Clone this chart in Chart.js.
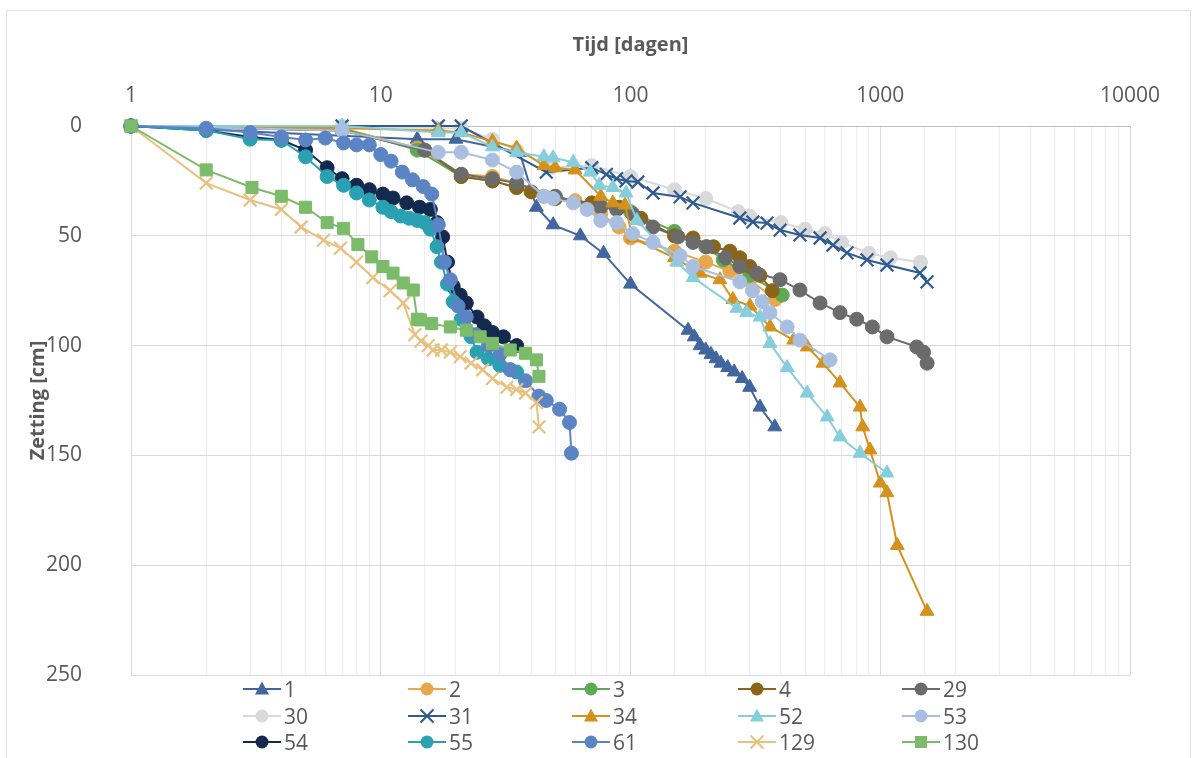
<!DOCTYPE html>
<html><head><meta charset="utf-8">
<script src="https://cdn.jsdelivr.net/npm/chart.js@4.4.1/dist/chart.umd.min.js"></script>
<style>
html,body{margin:0;padding:0;background:#fff;}
#wrap{position:relative;width:1198px;height:758px;overflow:hidden;background:#fff;}
#frame{position:absolute;left:6px;top:10px;width:1183px;height:800px;border:1px solid #e0e0e0;}
#c{position:absolute;left:0;top:0;}
#legend{position:absolute;left:0;top:0;width:1198px;height:758px;font-family:'Open Sans',sans-serif;font-size:21px;color:#595959;pointer-events:none;}
.item{position:absolute;display:flex;align-items:center;height:26px;white-space:nowrap;}
.item canvas{display:block;margin-right:3px;}
</style></head>
<body><div id="wrap"><div id="frame"></div><canvas id="c" width="1198" height="758"></canvas><div id="legend"></div></div>
<script>
// ---- data: time in days (t) and settlement in cm (z) per series ----
const names = ['1','2','3','4','29','30','31','34','52','53','54','55','61','129','130'];

const t1 = [1,14,20,36,42,49,63,78,100,170,180,190,200,210,220,230,245,260,280,300,330,378];
const z1 = [0,6,6,12,37,45,50,58,72,93,96,100,102,104,106,108,110,112,115,119,128,137];

const t2 = [1,7,14,21,28,35,45,60,76,90,100,150,200,250,300,380];
const z2 = [0,1,10,22,23,26,32,34,40,46,51,57,62,66,70,79];

const t3 = [1,7,14,21,28,35,50,76,100,150,200,235,300,405];
const z3 = [0,1,11,23,25,28,33,36,39,48,55,61,68,77];

const t4 = [1,7,15,21,28,35,40,50,70,90,110,150,178,215,250,274,300,330,370];
const z4 = [0,2,11,23,25,28,30,33,35,37,42,50,51,55,57,60,64,68,75];

const t29 = [1,7,15,21,28,35,50,76,88,102,123,155,178,202,240,274,320,397,477,574,690,805,930,1064,1400,1490,1540];
const z29 = [0,2,11,22,24,26,32,37,38,40,46,50.5,53,55,60,64,67,70,74.7,80.6,85,88,91.5,96,100.6,103,108];

const t30 = [1,7,17,21,28,35,48,70,100,150,200,270,300,400,500,600,700,900,1100,1450];
const z30 = [0,0,1,1,6,11,19,18,23,29,33,39,41,44,47,49,53,58,60,62];

const t31 = [1,7,17,21,46,70,80,88,96,107,123,158,178,274,309,352,397,477,574,647,736,885,1064,1443,1539];
const z31 = [0,0,0,0,21,19,22,24,25,25.5,30.5,32.3,35,41.9,43.7,44.2,47.4,49.6,51,54.2,57.8,61,63.3,66.9,71];

const t34 = [1,7,17,21,28,35,45,50,60,76,85,95,102,150,190,228,257,301,362,450,510,590,690,830,850,910,1000,1064,1170,1540];
const z34 = [0,1,2,3,7,10,18,19,20,32,35,36,51,60,67,70,79,82,91.5,97.5,100.6,108,117,128,137,147.5,162.6,167,191,221];

const t52 = [1,7,17,21,28,35,45,49,59,69,75,85,96,106,153,178,267,292,330,362,424,510,613,690,830,1064];
const z52 = [0,0,3,3,9.5,12,14,14.5,16.5,21,27,28,30.5,43,62,69,83,85,87,99,110,121.6,132.5,141.6,149,158];

const t53 = [1,7,17,21,28,35,45,49,59,67,76,88,102,123,158,178,274,308,337,362,424,477,630];
const z53 = [0,2,12,12,15.5,21,32,33,35,38,43,44,49,53,59,64,71,75,80,85,91.5,97.5,106.5];

const t54 = [1,2,3,4,5,6.1,7,8,9,10.2,11.2,12.7,14.3,15.8,16.8,17.7,18.5,19.5,20.8,22,24.3,26,28,31,35];
const z54 = [0,2,5,6.4,11,19,24,27,29,31,32.8,35,37,38,44,50.5,62,73,77,80.6,87,91,94,96,100];

const t55 = [1,2,3,4,5,6.1,7.1,8,9,10.2,11,12,13,14,15,15.8,16.8,17.5,18.5,19.5,21,23,24.3,27,30,33,35];
const z55 = [0,2,6,6.5,14,23,27,30.5,33.7,37,39,41,42,43,44,47,55,62,72,80,88,96,103,106,109,111,112];

const t61 = [1,2,3,4,5,6,7.1,8,9,10,11,12.2,13.4,14.8,16,17,18,19,20.4,22,24,27,30,33,38,43,46,52,57,58];
const z61 = [0,1,3,5,6.4,5.5,7.7,8.6,8.6,13,16,21,24.5,27.6,31,45,62,70,82,87,95,100,104,111,116,123,125,129,135,149];

const t129 = [1,2,3,4,4.8,5.9,6.9,8,9.3,10.9,12.3,13.7,14.5,15.5,16.2,17.5,19,20.8,23,25.6,28,32,35,38,42,43];
const z129 = [0,26,33.7,38,46,52,55.6,62,69,75,80.6,95,98,100,102,102,103,105,108,111,115,119,120,121.6,126,137];

const t130 = [1,2,3.05,4,5,6.1,7.1,8.1,9.2,10.2,11.2,12.3,13.5,14,14.4,16,19,22,25,28,33,38,42,43];
const z130 = [0,20,28,32,37,44,46.6,54,59.6,64,67,71.5,74.7,88,88.3,90,91.5,93,96,99,102,103.5,106.5,114];

const xTickLabels = [1,10,100,1000,10000];
const yTicks = [0,50,100,150,200,250];

// ---- styles ----
const seriesT = [t1,t2,t3,t4,t29,t30,t31,t34,t52,t53,t54,t55,t61,t129,t130];
const seriesZ = [z1,z2,z3,z4,z29,z30,z31,z34,z52,z53,z54,z55,z61,z129,z130];
const colors = ['#41659e','#e6a84a','#5ea956','#8a6418','#6b6b6b','#d9d9d9','#2f5b8f','#d4921d','#86cedb','#a9bfe1','#13294d','#2aa1b3','#5b84c5','#e8c17f','#7bbb69'];
const styles = ['triangle','circle','circle','circle','circle','circle','crossRot','triangle','triangle','circle','circle','circle','circle','crossRot','rect'];
const radii = {triangle:8, circle:7, crossRot:9, rect:8.5};

const n = names.length;
const datasets = names.map((nm,i)=>({
  label: nm,
  data: seriesT[i].map((v,k)=>({x:v, y:seriesZ[i][k]})),
  borderColor: colors[i],
  backgroundColor: colors[i],
  pointBackgroundColor: colors[i],
  pointBorderColor: colors[i],
  pointStyle: styles[i],
  pointRadius: radii[styles[i]],
  pointBorderWidth: styles[i]==='crossRot' ? 2.2 : 1,
  borderWidth: 2,
  showLine: true,
  tension: 0,
  clip: false,
  order: n - i
}));

const isMajor = v => { const l = Math.log10(v); return Math.abs(l - Math.round(l)) < 1e-9; };
const FONT = "'Open Sans', sans-serif";

new Chart(document.getElementById('c'), {
  type: 'scatter',
  data: { datasets },
  options: {
    responsive: false,
    animation: false,
    layout: { padding: { left: 0, top: 0, right: 68, bottom: 83 } },
    plugins: { legend: { display: false }, tooltip: { enabled: false } },
    scales: {
      x: {
        type: 'logarithmic', position: 'top', min: 1, max: 10000,
        afterFit(s){ s.height = 126; },
        border: { color: '#bfbfbf', width: 1 },
        grid: { drawTicks: false, lineWidth: 1,
          color: c => (c.tick && isMajor(c.tick.value)) ? '#d9d9d9' : '#eeeeee' },
        ticks: { autoSkip: false, maxRotation: 0, minRotation: 0, padding: 17, color: '#595959',
          font: { family: FONT, size: 21 },
          callback: v => xTickLabels.includes(v) ? String(v) : '' },
        title: { display: true, text: 'Tijd [dagen]', color: '#595959',
          font: { family: FONT, size: 20, weight: 'bold' }, padding: { top: 33, bottom: 0 } }
      },
      y: {
        type: 'linear', reverse: true, min: 0, max: 250,
        afterFit(s){ s.width = 131; },
        afterBuildTicks(s){ s.ticks = yTicks.map(v=>({value:v})); },
        border: { display: false },
        grid: { drawTicks: false, color: '#d9d9d9', lineWidth: 1 },
        ticks: { padding: 49, color: '#595959', font: { family: FONT, size: 21 } },
        title: { display: true, text: 'Zetting [cm]', color: '#595959',
          font: { family: FONT, size: 20, weight: 'bold' }, padding: { top: 26, bottom: 0 } }
      }
    }
  }
});

// ---- legend (HTML, 5 columns x 3 rows) ----
const leg = document.getElementById('legend');
const colX = [243, 408, 572, 738, 902];
const rowY = [689, 716, 742];
names.forEach((nm,i)=>{
  const col = i % 5, row = Math.floor(i/5);
  const it = document.createElement('div');
  it.className = 'item';
  it.style.left = colX[col] + 'px';
  it.style.top = (rowY[row] - 13) + 'px';
  const cv = document.createElement('canvas');
  cv.width = 38; cv.height = 20;
  const g = cv.getContext('2d');
  g.strokeStyle = colors[i]; g.fillStyle = colors[i]; g.lineWidth = 2;
  g.beginPath(); g.moveTo(0,10); g.lineTo(38,10); g.stroke();
  const cx = 19, cy = 10, s = styles[i];
  g.beginPath();
  if (s === 'circle') { g.arc(cx,cy,6.5,0,Math.PI*2); g.fill(); }
  else if (s === 'triangle') { g.moveTo(cx,cy-7.5); g.lineTo(cx+7,cy+5.5); g.lineTo(cx-7,cy+5.5); g.closePath(); g.fill(); }
  else if (s === 'rect') { g.fillRect(cx-6,cy-6,12,12); }
  else if (s === 'crossRot') { g.moveTo(cx-6.5,cy-6.5); g.lineTo(cx+6.5,cy+6.5); g.moveTo(cx+6.5,cy-6.5); g.lineTo(cx-6.5,cy+6.5); g.stroke(); }
  it.appendChild(cv);
  const sp = document.createElement('span');
  sp.textContent = nm;
  it.appendChild(sp);
  leg.appendChild(it);
});
</script>
</body></html>
